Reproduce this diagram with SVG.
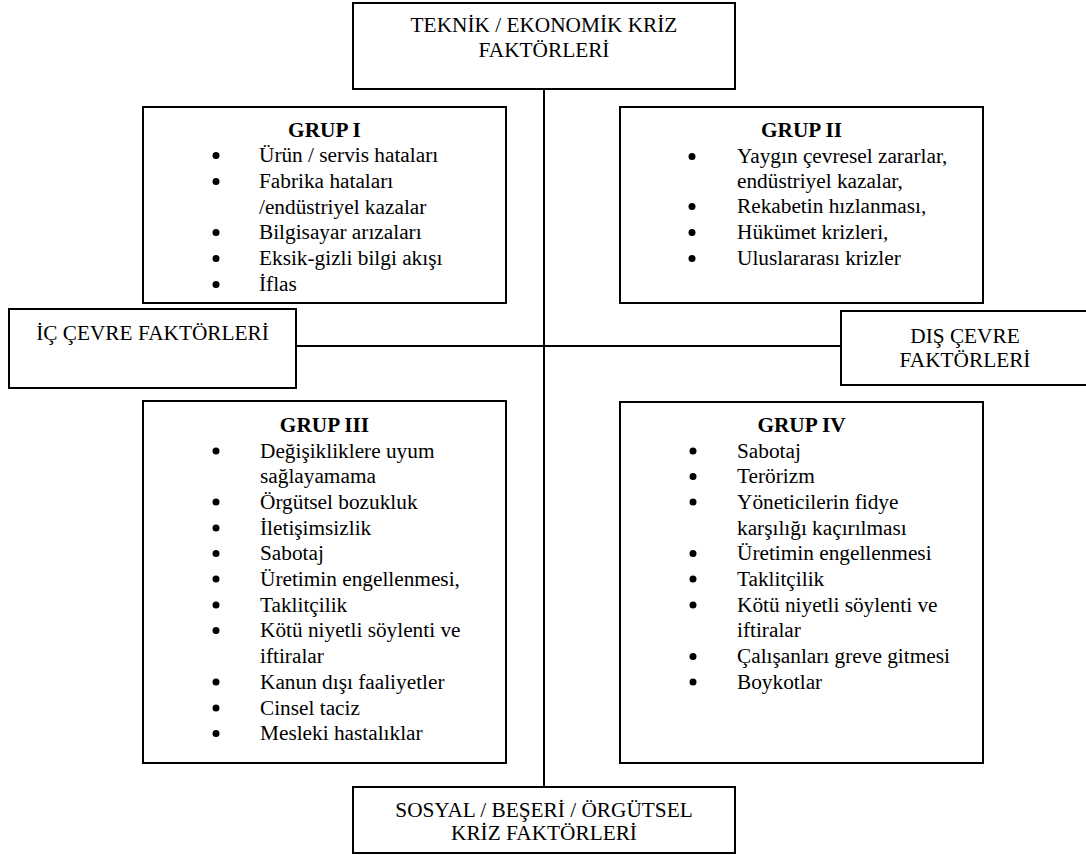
<svg xmlns="http://www.w3.org/2000/svg" width="1086" height="855" viewBox="0 0 1086 855">
  <style>
    .box { fill: #fff; stroke: #000; stroke-width: 2; }
    .ln { stroke: #000; stroke-width: 2; fill: none; }
    text { font-family: "Liberation Serif", "Times New Roman", serif; font-size: 21.3px; fill: #000; }
    .c { text-anchor: middle; }
    .h { font-weight: bold; text-anchor: middle; }
    .b { fill: #000; }
  </style>
  <rect width="1086" height="855" fill="#fff"/>

  <g id="connectors">
    <line class="ln" x1="544" y1="89" x2="544" y2="787"/>
    <line class="ln" x1="296" y1="346" x2="841" y2="346"/>
  </g>

  <g id="node-teknik">
    <rect class="box" x="353" y="3" width="382" height="86"/>
    <text class="c" x="544" y="32">TEKNİK / EKONOMİK KRİZ</text>
    <text class="c" x="544" y="57">FAKTÖRLERİ</text>
  </g>

  <g id="node-grup1">
    <rect class="box" x="143" y="107" width="363" height="196"/>
    <text class="h" x="324.5" y="137">GRUP I</text>
    <circle class="b" cx="216" cy="155.5" r="3.5"/>
    <text x="259" y="162">Ürün / servis hataları</text>
    <circle class="b" cx="216" cy="181.5" r="3.5"/>
    <text x="259" y="188">Fabrika hataları</text>
    <text x="259" y="213.5">/endüstriyel kazalar</text>
    <circle class="b" cx="216" cy="232.5" r="3.5"/>
    <text x="259" y="239">Bilgisayar arızaları</text>
    <circle class="b" cx="216" cy="258.5" r="3.5"/>
    <text x="259" y="265">Eksik-gizli bilgi akışı</text>
    <circle class="b" cx="216" cy="284.5" r="3.5"/>
    <text x="259" y="291">İflas</text>
  </g>

  <g id="node-grup2">
    <rect class="box" x="620" y="107" width="363" height="196"/>
    <text class="h" x="801.5" y="137">GRUP II</text>
    <circle class="b" cx="692" cy="156.5" r="3.5"/>
    <text x="737" y="163">Yaygın çevresel zararlar,</text>
    <text x="737" y="188">endüstriyel kazalar,</text>
    <circle class="b" cx="692" cy="206.5" r="3.5"/>
    <text x="737" y="213">Rekabetin hızlanması,</text>
    <circle class="b" cx="692" cy="232.5" r="3.5"/>
    <text x="737" y="239">Hükümet krizleri,</text>
    <circle class="b" cx="692" cy="258.5" r="3.5"/>
    <text x="737" y="265">Uluslararası krizler</text>
  </g>

  <g id="node-ic-cevre">
    <rect class="box" x="9" y="309" width="287" height="79"/>
    <text class="c" x="152.5" y="340">İÇ ÇEVRE FAKTÖRLERİ</text>
  </g>

  <g id="node-dis-cevre">
    <rect class="box" x="841" y="311" width="250" height="74"/>
    <text class="c" x="965" y="343">DIŞ ÇEVRE</text>
    <text class="c" x="965" y="367">FAKTÖRLERİ</text>
  </g>

  <g id="node-grup3">
    <rect class="box" x="143" y="401" width="363" height="362"/>
    <text class="h" x="324.5" y="432">GRUP III</text>
    <circle class="b" cx="216" cy="451" r="3.5"/>
    <text x="260" y="457.5">Değişikliklere uyum</text>
    <text x="260" y="483">sağlayamama</text>
    <circle class="b" cx="216" cy="502" r="3.5"/>
    <text x="260" y="508.5">Örgütsel bozukluk</text>
    <circle class="b" cx="216" cy="528" r="3.5"/>
    <text x="260" y="534.5">İletişimsizlik</text>
    <circle class="b" cx="216" cy="553.5" r="3.5"/>
    <text x="260" y="560">Sabotaj</text>
    <circle class="b" cx="216" cy="579" r="3.5"/>
    <text x="260" y="585.5">Üretimin engellenmesi,</text>
    <circle class="b" cx="216" cy="605" r="3.5"/>
    <text x="260" y="611.5">Taklitçilik</text>
    <circle class="b" cx="216" cy="630.5" r="3.5"/>
    <text x="260" y="637">Kötü niyetli söylenti ve</text>
    <text x="260" y="663">iftiralar</text>
    <circle class="b" cx="216" cy="682" r="3.5"/>
    <text x="260" y="688.5">Kanun dışı faaliyetler</text>
    <circle class="b" cx="216" cy="708" r="3.5"/>
    <text x="260" y="714.5">Cinsel taciz</text>
    <circle class="b" cx="216" cy="733.5" r="3.5"/>
    <text x="260" y="740">Mesleki hastalıklar</text>
  </g>

  <g id="node-grup4">
    <rect class="box" x="620" y="402" width="363" height="361"/>
    <text class="h" x="801.5" y="432">GRUP IV</text>
    <circle class="b" cx="693" cy="451" r="3.5"/>
    <text x="737" y="457.5">Sabotaj</text>
    <circle class="b" cx="693" cy="476.5" r="3.5"/>
    <text x="737" y="483">Terörizm</text>
    <circle class="b" cx="693" cy="502" r="3.5"/>
    <text x="737" y="508.5">Yöneticilerin fidye</text>
    <text x="737" y="534.5">karşılığı kaçırılması</text>
    <circle class="b" cx="693" cy="553.5" r="3.5"/>
    <text x="737" y="560">Üretimin engellenmesi</text>
    <circle class="b" cx="693" cy="579" r="3.5"/>
    <text x="737" y="585.5">Taklitçilik</text>
    <circle class="b" cx="693" cy="605" r="3.5"/>
    <text x="737" y="611.5">Kötü niyetli söylenti ve</text>
    <text x="737" y="637">iftiralar</text>
    <circle class="b" cx="693" cy="656.5" r="3.5"/>
    <text x="737" y="663">Çalışanları greve gitmesi</text>
    <circle class="b" cx="693" cy="682" r="3.5"/>
    <text x="737" y="688.5">Boykotlar</text>
  </g>

  <g id="node-sosyal">
    <rect class="box" x="353" y="787" width="382" height="66"/>
    <text class="c" x="544" y="817">SOSYAL / BEŞERİ / ÖRGÜTSEL</text>
    <text class="c" x="544" y="840">KRİZ FAKTÖRLERİ</text>
  </g>
</svg>
